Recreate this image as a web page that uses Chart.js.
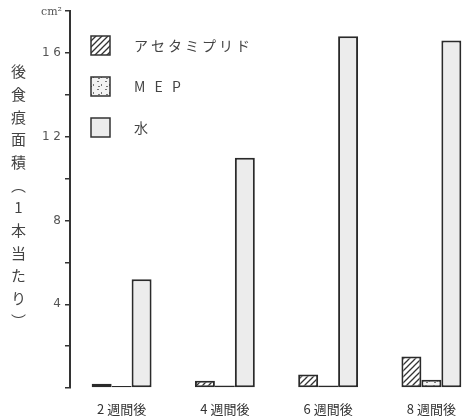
<!DOCTYPE html>
<html lang="ja">
<head>
<meta charset="utf-8">
<script src="https://cdn.jsdelivr.net/npm/chart.js@4/dist/chart.umd.min.js"></script>
<style>
  html, body { margin: 0; padding: 0; background: #fff; overflow: hidden; }
  #wrap { position: relative; width: 465px; height: 419px; overflow: hidden; }
  #chart { position: absolute; left: 0; top: 0; }
  #ytitle {
    position: absolute; left: 8px; top: 64px;
    writing-mode: vertical-rl; text-orientation: upright;
    font-family: "Noto Sans CJK JP", sans-serif; font-size: 15px;
    letter-spacing: 7.7px; color: #444;
  }
  #unit {
    position: absolute; left: 41px; top: 5px;
    font-family: "DejaVu Serif", serif; font-size: 11px; color: #555;
  }
</style>
</head>
<body>
<div id="wrap">
  <canvas id="chart" width="490" height="419"></canvas>
  <div id="ytitle">後食痕面積（1本当たり）</div>
  <div id="unit">cm²</div>
</div>
<script>
// data
const weeks = ['2 週間後', '4 週間後', '6 週間後', '8 週間後'];
const seriesNames = ['アセタミプリド', 'M E P', '水'];
const acetamiprid = [0.2, 0.35, 0.65, 1.5];
const mep = [0.1, 0.12, 0.12, 0.4];
const water = [5.2, 11.0, 16.8, 16.6];
const yTicks = { 4: '4', 8: '8', 12: '1 2', 16: '1 6' };

// fill patterns
function hatch() {
  const c = document.createElement('canvas');
  c.width = 6; c.height = 6;
  const g = c.getContext('2d');
  g.fillStyle = '#fff'; g.fillRect(0, 0, 6, 6);
  g.strokeStyle = '#333'; g.lineWidth = 1.3;
  g.beginPath();
  g.moveTo(-1, 7); g.lineTo(7, -1);
  g.moveTo(-4, 4); g.lineTo(4, -4);
  g.moveTo(2, 10); g.lineTo(10, 2);
  g.stroke();
  return g.createPattern(c, 'repeat');
}
function speckle() {
  const c = document.createElement('canvas');
  c.width = 8; c.height = 8;
  const g = c.getContext('2d');
  g.fillStyle = '#f3f3f3'; g.fillRect(0, 0, 8, 8);
  g.fillStyle = '#777';
  g.fillRect(1, 1, 2, 1); g.fillRect(5, 4, 1, 2); g.fillRect(2, 6, 2, 1);
  return g.createPattern(c, 'repeat');
}
const fills = [hatch(), speckle(), '#ececec'];
const values = [acetamiprid, mep, water];

// legend drawn inside the plot, top left, stacked
const boxLegend = {
  id: 'boxLegend',
  afterDraw(chart) {
    const ctx = chart.ctx;
    ctx.save();
    chart.data.datasets.forEach((ds, i) => {
      const y = 36 + i * 41;
      ctx.fillStyle = ds.backgroundColor;
      ctx.fillRect(91, y, 19, 19);
      ctx.strokeStyle = '#333';
      ctx.lineWidth = 1.5;
      ctx.strokeRect(91, y, 19, 19);
      ctx.fillStyle = '#444';
      ctx.font = '14px "Noto Sans CJK JP"';
      ctx.letterSpacing = '3px';
      ctx.textBaseline = 'middle';
      ctx.fillText(ds.label, 134, y + 10);
    });
    ctx.restore();
  }
};

new Chart(document.getElementById('chart'), {
  type: 'bar',
  data: {
    labels: weeks,
    datasets: seriesNames.map((name, i) => ({
      label: name,
      data: values[i],
      backgroundColor: fills[i],
      borderColor: '#2a2a2a',
      borderWidth: 2,
      borderSkipped: false
    }))
  },
  options: {
    responsive: false,
    animation: false,
    devicePixelRatio: 1,
    layout: { padding: { top: 11, right: 7, left: 0, bottom: 0 } },
    categoryPercentage: 0.58,
    barPercentage: 1.0,
    plugins: { legend: { display: false }, tooltip: { enabled: false } },
    scales: {
      x: {
        grid: { display: false },
        border: { display: false },
        ticks: {
          color: '#333',
          padding: 5,
          font: { family: '"Noto Sans CJK JP"', size: 13 }
        },
        afterFit(s) { s.height = 31; }
      },
      y: {
        min: 0,
        max: 18,
        grid: { drawOnChartArea: false, drawTicks: true, tickLength: 5, color: '#333', lineWidth: 1.5 },
        border: { display: true, color: '#333', width: 2 },
        ticks: {
          stepSize: 2,
          padding: 4,
          color: '#555',
          font: { family: '"DejaVu Sans"', size: 12 },
          callback: v => yTicks[v] || ''
        },
        afterFit(s) { s.width = 70; }
      }
    }
  },
  plugins: [boxLegend]
});
</script>
</body>
</html>
